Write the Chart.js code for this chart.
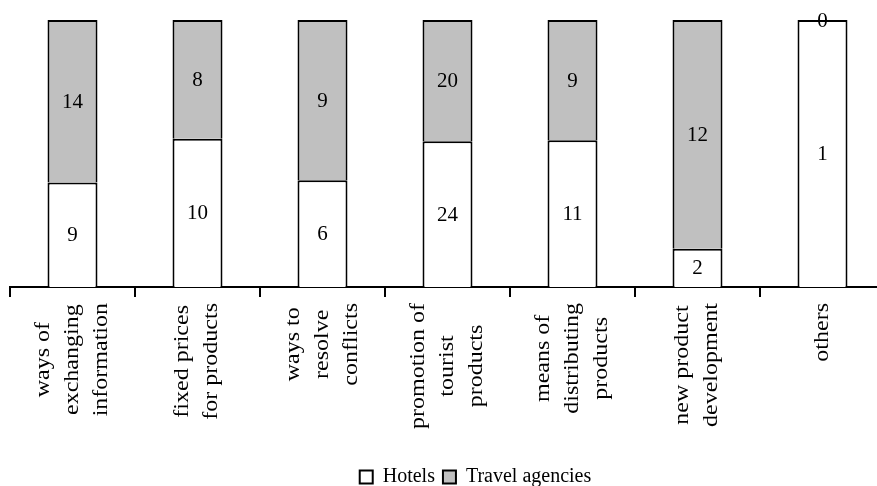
<!DOCTYPE html>
<html>
<head>
<meta charset="utf-8">
<script src="https://cdn.jsdelivr.net/npm/chart.js@4/dist/chart.umd.min.js"></script>
<style>
  html, body { margin: 0; padding: 0; background: #fff; overflow: hidden; }
  #wrap { width: 877px; height: 486px; overflow: hidden; }
</style>
</head>
<body>
<div id="wrap"><canvas id="c" width="956" height="486"></canvas></div>
<script>
const categories = [
  ["ways of", "exchanging", "information"],
  ["fixed prices", "for products"],
  ["ways to", "resolve", "conflicts"],
  ["promotion of", "tourist", "products"],
  ["means of", "distributing", "products"],
  ["new product", "development"],
  ["others"]
];
const hotels = [9, 10, 6, 24, 11, 2, 1];
const travelAgencies = [14, 8, 9, 20, 9, 12, 0];
const seriesNames = ["Hotels", "Travel agencies"];

const totals = hotels.map((v, i) => v + travelAgencies[i]);
const hotelsPct = hotels.map((v, i) => v / totals[i] * 100);
const agenciesPct = travelAgencies.map((v, i) => v / totals[i] * 100);
const rawValues = [hotels, travelAgencies];

const FONT = "'Liberation Serif', 'Times New Roman', serif";

const legendShift = {
  id: 'legendShift',
  afterLayout(chart) {
    const lg = chart.legend;
    if (!lg) return;
    lg.left += 28; lg.right += 28;
    lg.top += 11; lg.bottom += 11;
  }
};

const valueLabels = {
  id: 'valueLabels',
  afterDatasetsDraw(chart) {
    const ctx = chart.ctx;
    ctx.save();
    ctx.font = "21px " + FONT;
    ctx.fillStyle = '#000';
    ctx.textAlign = 'center';
    ctx.textBaseline = 'middle';
    chart.data.datasets.forEach((ds, di) => {
      const meta = chart.getDatasetMeta(di);
      meta.data.forEach((el, i) => {
        const p = el.getCenterPoint();
        ctx.fillText(String(rawValues[di][i]), p.x, p.y + 1);
      });
    });
    ctx.restore();
  }
};

const categoryLabels = {
  id: 'categoryLabels',
  afterDraw(chart) {
    const ctx = chart.ctx;
    const xs = chart.scales.x;
    const top = chart.chartArea.bottom + 16;
    const lineGap = 29;
    const stretch = 1.2;
    ctx.save();
    ctx.font = "20px " + FONT;
    ctx.fillStyle = '#000';
    ctx.textAlign = 'center';
    ctx.textBaseline = 'middle';
    categories.forEach((lines, i) => {
      const cx = xs.getPixelForValue(i);
      const maxW = Math.max(...lines.map(l => ctx.measureText(l).width)) * stretch;
      const n = lines.length;
      lines.forEach((line, j) => {
        const x = cx + (j - (n - 1) / 2) * lineGap;
        ctx.save();
        ctx.translate(x, top + maxW / 2);
        ctx.rotate(-Math.PI / 2);
        ctx.scale(stretch, 1);
        ctx.fillText(line, 0, 0);
        ctx.restore();
      });
    });
    ctx.restore();
  }
};

new Chart(document.getElementById('c'), {
  type: 'bar',
  data: {
    labels: categories,
    datasets: [
      {
        label: seriesNames[0],
        data: hotelsPct,
        backgroundColor: '#ffffff',
        borderColor: '#000000',
        borderWidth: 2,
        barPercentage: 0.4,
        categoryPercentage: 1.0
      },
      {
        label: seriesNames[1],
        data: agenciesPct,
        backgroundColor: '#c0c0c0',
        borderColor: '#000000',
        borderWidth: 2,
        barPercentage: 0.4,
        categoryPercentage: 1.0
      }
    ]
  },
  options: {
    responsive: false,
    animation: false,
    layout: { padding: { left: 10, right: 71, top: 20, bottom: 0 } },
    plugins: {
      tooltip: { enabled: false },
      legend: {
        position: 'bottom',
        labels: {
          font: { family: FONT, size: 20 },
          color: '#000',
          boxWidth: 13,
          boxHeight: 13,
          padding: 8
        }
      }
    },
    scales: {
      x: {
        stacked: true,
        offset: true,
        grid: {
          offset: true,
          drawOnChartArea: false,
          drawTicks: true,
          tickLength: 10,
          color: '#000',
          lineWidth: 2
        },
        border: { display: true, color: '#000', width: 2 },
        ticks: { display: false },
        afterFit(scale) { scale.height = 161; }
      },
      y: {
        stacked: true,
        display: false,
        min: 0,
        max: 100
      }
    }
  },
  plugins: [legendShift, valueLabels, categoryLabels]
});
</script>
</body>
</html>
